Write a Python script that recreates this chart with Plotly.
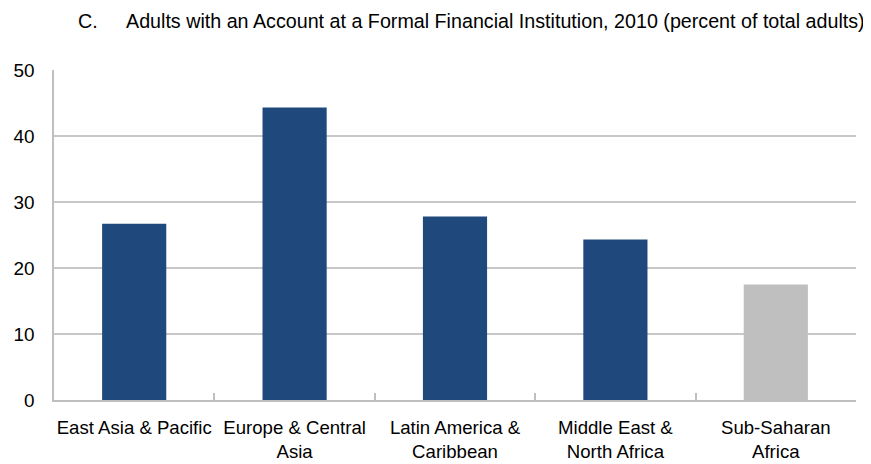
import plotly.graph_objects as go

categories = ["East Asia & Pacific", "Europe & Central<br>Asia", "Latin America &<br>Caribbean",
              "Middle East &<br>North Africa", "Sub-Saharan<br>Africa"]
values = [26.7, 44.3, 27.8, 24.3, 17.5]
bar_colors = ["#1F497D", "#1F497D", "#1F497D", "#1F497D", "#BFBFBF"]
y_ticks = [0, 10, 20, 30, 40, 50]
title_prefix = "C."
title_text = "Adults with an Account at a Formal Financial Institution, 2010 (percent of total adults)"

FONT = "Liberation Sans, Arial, sans-serif"

# the page body adds an 8px offset; compensate
OFF = 8
W, H = 871 - OFF, 464 - OFF
L, R, T, B = 54 - OFF, 15, 70 - OFF, 64

fig = go.Figure(go.Bar(x=categories, y=values, marker=dict(color=bar_colors, line=dict(width=0)),
                       width=0.4, hoverinfo="x+y"))

pw = W - L - R
ph = H - T - B

def px_x(px):
    return (px - OFF - L) / pw

def px_y(py):
    return (H - B - (py - OFF)) / ph

fig.update_layout(
    width=W, height=H,
    margin=dict(l=L, r=R, t=T, b=B, autoexpand=False),
    paper_bgcolor="white", plot_bgcolor="white",
    showlegend=False,
    font=dict(family=FONT, size=18.6, color="#000000"),
    xaxis=dict(showline=True, linecolor="#BFBFBF", linewidth=1.5,
               ticks="inside", tickson="boundaries", ticklen=7, tickcolor="#BFBFBF", tickwidth=1.5,
               tickangle=0, tickfont=dict(family=FONT, size=18.6), showgrid=False, ticklabelstandoff=10),
    yaxis=dict(range=[0, 50], tickvals=y_ticks, showline=True, linecolor="#BFBFBF", linewidth=1.5,
               showgrid=True, gridcolor="#C8C8C8", gridwidth=1.5, zeroline=False,
               ticks="", tickfont=dict(family=FONT, size=18.9), ticklabelstandoff=14),
    annotations=[
        dict(text=title_prefix, xref="paper", yref="paper", x=px_x(76), y=px_y(21),
             xanchor="left", yanchor="middle", showarrow=False,
             font=dict(family=FONT, size=19.7, color="#000000")),
        dict(text=title_text, xref="paper", yref="paper", x=px_x(124), y=px_y(21),
             xanchor="left", yanchor="middle", showarrow=False,
             font=dict(family=FONT, size=19.7, color="#000000")),
    ],
)

fig.write_html("out.html")
